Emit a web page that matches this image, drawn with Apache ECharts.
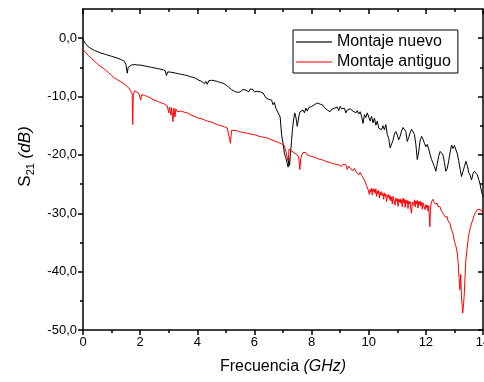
<!DOCTYPE html>
<html>
<head>
<meta charset="utf-8">
<title>S21</title>
<script src="https://cdn.jsdelivr.net/npm/echarts@6/dist/echarts.min.js"></script>
<style>
  html, body { margin: 0; padding: 0; background: #fff; }
  #chart { width: 484px; height: 382px; }
</style>
</head>
<body>
<div id="chart"></div>
<script>
// Frequency (GHz) and S21 (dB) for the new fixture
const freqNuevo = [
  0.00, 0.03, 0.08, 0.15, 0.25, 0.40, 0.60, 0.80, 1.00, 1.20, 1.35, 1.45, 1.50, 1.55, 1.58, 1.62, 1.70, 1.80, 1.90, 2.00,
  2.10, 2.20, 2.30, 2.40, 2.50, 2.60, 2.70, 2.80, 2.88, 2.92, 2.96, 3.05, 3.15, 3.25, 3.35, 3.45, 3.55, 3.65, 3.75, 3.85,
  3.95, 4.00, 4.05, 4.10, 4.15, 4.20, 4.25, 4.30, 4.35, 4.40, 4.45, 4.50, 4.55, 4.60, 4.65, 4.70, 4.75, 4.80, 4.85, 4.90,
  4.95, 5.00, 5.05, 5.10, 5.15, 5.20, 5.25, 5.30, 5.35, 5.40, 5.45, 5.50, 5.55, 5.60, 5.65, 5.70, 5.75, 5.80, 5.85, 5.90,
  5.95, 6.00, 6.05, 6.10, 6.15, 6.20, 6.25, 6.30, 6.35, 6.40, 6.45, 6.50, 6.55, 6.60, 6.65, 6.70, 6.75, 6.80, 6.85, 6.90,
  6.95, 7.00, 7.05, 7.10, 7.15, 7.18, 7.20, 7.23, 7.26, 7.30, 7.33, 7.37, 7.41, 7.45, 7.50, 7.53, 7.57, 7.60, 7.65, 7.70,
  7.75, 7.80, 7.85, 7.90, 7.95, 8.00, 8.05, 8.10, 8.15, 8.20, 8.25, 8.30, 8.35, 8.40, 8.45, 8.50, 8.55, 8.60, 8.65, 8.70,
  8.75, 8.80, 8.85, 8.90, 8.95, 9.00, 9.05, 9.10, 9.15, 9.20, 9.25, 9.30, 9.35, 9.40, 9.45, 9.50, 9.55, 9.60, 9.65, 9.70,
  9.75, 9.80, 9.85, 9.90, 9.95, 10.00, 10.05, 10.10, 10.15, 10.20, 10.25, 10.30, 10.35, 10.40, 10.45, 10.50, 10.55, 10.60, 10.65, 10.70,
  10.75, 10.80, 10.85, 10.90, 10.95, 11.00, 11.05, 11.10, 11.15, 11.20, 11.25, 11.30, 11.35, 11.40, 11.45, 11.50, 11.55, 11.60, 11.65, 11.70,
  11.75, 11.80, 11.85, 11.90, 11.95, 12.00, 12.05, 12.10, 12.15, 12.20, 12.25, 12.30, 12.35, 12.40, 12.45, 12.50, 12.55, 12.60, 12.65, 12.70,
  12.75, 12.80, 12.85, 12.90, 12.95, 13.00, 13.05, 13.10, 13.15, 13.20, 13.25, 13.30, 13.35, 13.40, 13.45, 13.50, 13.55, 13.60, 13.65, 13.70,
  13.75, 13.80, 13.85, 13.90, 13.95, 14.00
];
const s21Nuevo = [
  0.0, -0.5, -0.9, -1.3, -1.7, -2.1, -2.5, -2.8, -3.1, -3.4, -3.7, -4.0, -4.5, -6.0, -5.0, -4.7, -4.6, -4.5, -4.6, -4.6,
  -4.7, -4.8, -4.9, -5.0, -5.1, -5.2, -5.3, -5.4, -5.6, -6.4, -5.8, -5.8, -5.9, -6.0, -6.1, -6.2, -6.3, -6.4, -6.6, -6.7,
  -6.9, -7.0, -7.2, -7.1, -7.4, -7.3, -7.8, -7.4, -7.9, -7.3, -7.4, -7.2, -7.5, -7.3, -7.5, -7.4, -7.6, -7.6, -7.8, -7.7,
  -7.9, -8.0, -8.2, -8.4, -8.6, -8.8, -9.0, -9.1, -9.4, -9.3, -9.5, -9.2, -8.9, -8.8, -8.6, -8.9, -8.6, -9.2, -8.7, -8.9,
  -8.8, -9.2, -8.9, -9.1, -9.3, -9.2, -9.5, -9.4, -9.7, -10.2, -10.0, -10.5, -10.8, -10.6, -11.4, -11.0, -12.0, -11.7, -13.0, -13.5,
  -16.5, -18.0, -19.8, -20.5, -21.5, -22.1, -20.5, -21.8, -19.8, -17.5, -15.7, -14.0, -12.8, -13.5, -15.1, -14.2, -13.0, -12.6, -12.9, -12.3,
  -12.8, -12.0, -12.5, -11.9, -12.1, -11.7, -11.8, -11.4, -11.5, -11.1, -11.2, -11.3, -11.6, -11.5, -11.9, -12.0, -12.3, -12.4, -12.6, -12.2,
  -12.4, -12.0, -12.2, -11.8, -12.4, -11.7, -12.1, -12.3, -12.0, -12.8, -12.3, -12.6, -12.1, -12.3, -12.5, -12.2, -12.8, -12.4, -13.0, -12.6,
  -13.4, -14.6, -13.1, -13.6, -12.8, -13.1, -14.2, -13.4, -14.5, -13.7, -14.9, -14.2, -15.4, -15.1, -15.7, -15.0, -15.7, -14.8, -16.5, -17.2,
  -18.8, -19.1, -17.5, -16.4, -16.0, -16.6, -17.4, -16.8, -15.9, -15.3, -15.1, -16.0, -17.7, -17.0, -16.2, -15.6, -15.4, -16.5, -18.2, -20.8,
  -19.5, -17.5, -16.8, -17.3, -18.0, -18.6, -18.2, -19.0, -20.0, -20.8, -21.4, -22.0, -22.8, -21.5, -20.2, -19.4, -19.1, -20.0, -21.3, -22.8,
  -22.3, -21.0, -19.5, -18.3, -18.9, -18.4, -18.6, -19.8, -21.0, -22.5, -23.7, -22.8, -22.0, -21.1, -21.8, -23.0, -23.5, -24.3, -23.2, -22.8,
  -22.6, -23.4, -24.2, -25.1, -26.3, -27.1
];

// Frequency (GHz) and S21 (dB) for the old fixture
const freqAntiguo = [
  0.00, 0.02, 0.05, 0.10, 0.20, 0.30, 0.40, 0.50, 0.60, 0.70, 0.80, 0.90, 1.00, 1.10, 1.20, 1.30, 1.40, 1.50, 1.60, 1.67,
  1.72, 1.74, 1.76, 1.80, 1.87, 1.95, 2.00, 2.02, 2.05, 2.15, 2.25, 2.35, 2.45, 2.55, 2.65, 2.75, 2.85, 2.95, 3.00, 3.03,
  3.08, 3.10, 3.15, 3.18, 3.22, 3.25, 3.30, 3.35, 3.45, 3.55, 3.65, 3.75, 3.85, 3.95, 4.05, 4.15, 4.25, 4.35, 4.45, 4.55,
  4.65, 4.75, 4.85, 4.95, 5.05, 5.12, 5.16, 5.20, 5.25, 5.35, 5.45, 5.55, 5.65, 5.75, 5.85, 5.95, 6.05, 6.15, 6.25, 6.35,
  6.45, 6.55, 6.65, 6.75, 6.85, 6.95, 7.05, 7.12, 7.18, 7.21, 7.28, 7.35, 7.41, 7.50, 7.55, 7.59, 7.62, 7.66,
  7.70, 7.75, 7.80, 7.85, 7.90, 7.95, 8.00, 8.05, 8.10, 8.15, 8.20, 8.25, 8.30, 8.35, 8.40, 8.45, 8.50, 8.55, 8.60, 8.65,
  8.70, 8.75, 8.80, 8.85, 8.90, 8.95, 9.00, 9.05, 9.10, 9.15, 9.20, 9.25, 9.30, 9.35, 9.40, 9.45, 9.50, 9.55, 9.60, 9.65,
  9.70, 9.75, 9.80, 9.85,
  9.900, 9.925, 9.950, 9.975, 10.000, 10.025, 10.050, 10.075, 10.100, 10.125, 10.150, 10.175, 10.200, 10.225, 10.250, 10.275,
  10.300, 10.325, 10.350, 10.375, 10.400, 10.425, 10.450, 10.475, 10.500, 10.525, 10.550, 10.575, 10.600, 10.625, 10.650, 10.675,
  10.700, 10.725, 10.750, 10.775, 10.800, 10.825, 10.850, 10.875, 10.900, 10.925, 10.950, 10.975, 11.000, 11.025, 11.050, 11.075,
  11.100, 11.125, 11.150, 11.175, 11.200, 11.225, 11.250, 11.275, 11.300, 11.325, 11.350, 11.375, 11.400, 11.425, 11.450, 11.475,
  11.500, 11.525, 11.550, 11.575, 11.600, 11.625, 11.650, 11.675, 11.700, 11.725, 11.750, 11.775, 11.800, 11.825, 11.850, 11.875,
  11.900, 11.925, 11.950, 11.975, 12.000, 12.025, 12.050, 12.075, 12.100, 12.125, 12.140, 12.160, 12.175, 12.200, 12.225, 12.250,
  12.275, 12.300, 12.325, 12.350, 12.375, 12.400, 12.425, 12.450, 12.475, 12.500, 12.525, 12.550, 12.575, 12.600, 12.625, 12.650,
  12.675, 12.700, 12.725, 12.750, 12.775, 12.800, 12.825, 12.850, 12.875, 12.900,
  12.95, 13.00, 13.05, 13.10, 13.13, 13.16, 13.19, 13.22, 13.25, 13.29, 13.32, 13.34, 13.37, 13.40, 13.45, 13.49, 13.55, 13.60,
  13.65, 13.70, 13.75, 13.80, 13.85, 13.90, 13.95, 14.00
];
const s21Antiguo = [
  -1.9, -1.7, -2.2, -2.5, -3.0, -3.5, -3.9, -4.4, -4.8, -5.1, -5.5, -5.9, -6.4, -6.8, -7.1, -7.4, -7.7, -8.1, -8.5, -8.8,
  -9.5, -14.8, -9.8, -9.0, -9.2, -9.4, -9.6, -10.6, -9.7, -9.8, -10.0, -10.2, -10.5, -10.7, -10.9, -11.1, -11.3, -11.6, -12.8, -11.8,
  -13.2, -11.9, -14.3, -12.0, -13.5, -12.1, -12.6, -12.3, -12.5, -12.7, -12.8, -13.1, -13.3, -13.5, -13.7, -13.8, -14.0, -14.2, -14.3, -14.5,
  -14.7, -14.9, -15.0, -15.2, -15.4, -15.6, -18.0, -15.8, -15.7, -15.8, -16.0, -16.1, -16.2, -16.3, -16.4, -16.5, -16.6, -16.8, -16.9, -17.0,
  -17.1, -17.3, -17.5, -17.7, -17.9, -18.1, -18.4, -18.7, -21.1, -19.0, -19.3, -19.5, -19.7, -20.0, -20.4, -22.5, -20.6, -20.0,
  -19.6, -19.8, -19.6, -20.0, -19.8, -20.2, -19.9, -20.3, -20.2, -20.5, -20.3, -20.7, -20.5, -20.8, -20.6, -21.0, -20.8, -21.2, -21.0, -21.3,
  -21.0, -21.5, -21.2, -21.6, -21.3, -21.7, -21.4, -22.0, -21.6, -21.9, -21.7, -22.5, -21.9, -22.3, -22.1, -22.7, -22.3, -22.8, -22.6, -23.4,
  -23.0, -23.5, -23.8, -24.3,
  -24.6, -25.3, -25.0, -25.9, -25.6, -26.8, -25.9, -26.4, -25.7, -26.9, -25.8, -26.3, -25.9, -26.6, -25.8, -27.1,
  -26.2, -26.7, -26.1, -27.4, -26.4, -26.9, -26.3, -27.0, -26.6, -27.6, -26.5, -27.1, -26.7, -28.0, -26.9, -27.3,
  -26.8, -27.6, -27.0, -27.9, -27.2, -28.4, -27.1, -27.6, -27.3, -28.6, -27.4, -27.9, -27.5, -28.8, -27.6, -28.1,
  -27.5, -28.3, -27.7, -28.9, -27.4, -28.2, -27.6, -29.0, -27.7, -28.3, -27.8, -29.2, -27.9, -28.4, -28.0, -29.5,
  -30.0, -28.1, -27.8, -28.6, -27.7, -28.9, -27.9, -28.4, -27.8, -29.1, -28.0, -28.5, -27.9, -28.8, -28.1, -29.3,
  -28.2, -28.7, -28.4, -29.4, -28.5, -29.0, -28.6, -29.6, -28.7, -31.0, -32.3, -29.5, -28.6, -28.0, -27.8, -27.6,
  -28.0, -27.8, -28.4, -28.1, -28.5, -28.3, -28.8, -28.6, -29.1, -28.9, -29.4, -29.2, -29.8, -29.6, -30.2, -30.0,
  -30.6, -30.3, -30.8, -30.6, -31.3, -31.0, -31.6, -31.8, -32.5, -32.8,
  -33.5, -34.8, -35.6, -36.8, -38.5, -41.0, -43.1, -40.5, -44.5, -47.1, -45.5, -44.2, -41.0, -38.0, -35.8, -34.0, -32.6, -31.7,
  -31.0, -30.2, -29.8, -29.4, -29.6, -29.3, -29.5, -30.0
];

// Axis ticks
const xTicks = [0, 2, 4, 6, 8, 10, 12, 14];
const yTicks = [-50, -40, -30, -20, -10, 0];
const yMinorTicks = [-45, -35, -25, -15, -5];

const seriesNames = ['Montaje nuevo', 'Montaje antiguo'];

const pairs = (xs, ys) => xs.map((x, i) => [x, ys[i]]);
const fmtComma = v => v.toFixed(1).replace('.', ',');

const FONT = 'Liberation Sans, Arial, sans-serif';
const AX = '#000';
const lineW = 1.5;

const chart = echarts.init(document.getElementById('chart'), null, { renderer: 'canvas' });

const baseX = {
  type: 'value', min: 0, max: 14, interval: 2,
  splitLine: { show: false },
  axisLine: { show: true, onZero: false, lineStyle: { color: AX, width: lineW } },
  minorTick: { show: true, splitNumber: 2, length: 3, lineStyle: { color: AX, width: lineW } },
  minorSplitLine: { show: false }
};
const baseY = {
  type: 'value', min: -50, max: 5, interval: 5,
  splitLine: { show: false },
  axisLine: { show: false, onZero: false, lineStyle: { color: AX, width: lineW } }
};

chart.setOption({
  animation: false,
  backgroundColor: '#fff',
  textStyle: { fontFamily: FONT },
  grid: { left: 83, right: 1, top: 9, bottom: 52, containLabel: false, outerBoundsMode: 'none' },
  legend: {
    data: [
      { name: seriesNames[0], itemStyle: { color: '#6a6a6a' } },
      { name: seriesNames[1], itemStyle: { color: '#ff7a7a' } }
    ],
    orient: 'vertical',
    left: 293, top: 30,
    icon: 'rect', itemWidth: 36, itemHeight: 2, itemGap: 2,
    padding: [3, 7, 2, 3],
    borderColor: '#000', borderWidth: 1,
    textStyle: { fontFamily: FONT, fontSize: 16, color: '#000', lineHeight: 18 }
  },
  xAxis: [
    Object.assign({}, baseX, {
      position: 'bottom',
      axisTick: { show: true, length: 5, lineStyle: { color: AX, width: lineW } },
      axisLabel: { show: true, margin: 6, color: '#000', fontFamily: FONT, fontSize: 13,
        customValues: xTicks, formatter: v => String(v) },
      name: 'Frecuencia {i|(GHz)}',
      nameLocation: 'middle', nameGap: 29, nameMoveOverlap: false,
      nameTextStyle: { fontFamily: FONT, fontSize: 16, color: '#000',
        rich: { i: { fontFamily: FONT, fontSize: 16, fontStyle: 'italic', color: '#000' } } }
    }),
    Object.assign({}, baseX, {
      position: 'top',
      axisTick: { show: true, inside: true, length: 5, lineStyle: { color: AX, width: lineW } },
      minorTick: { show: true, splitNumber: 2, length: 3, lineStyle: { color: AX, width: lineW } },
      axisLabel: { show: false }
    })
  ],
  yAxis: [
    Object.assign({}, baseY, {
      position: 'left',
      axisLine: { show: true, onZero: false, lineStyle: { color: AX, width: lineW } },
      axisTick: { show: true, length: 5, customValues: yTicks, lineStyle: { color: AX, width: lineW } },
      axisLabel: { show: true, margin: 6, color: '#000', fontFamily: FONT, fontSize: 13,
        customValues: yTicks, formatter: fmtComma },
      name: '{s|S}{sub|21}{s| }{i|(dB)}',
      nameLocation: 'middle', nameRotate: 90, nameGap: 47, nameMoveOverlap: false,
      nameTextStyle: { fontFamily: FONT, color: '#000', padding: [0, 0, 0, 26],
        rich: {
          s: { fontFamily: FONT, fontSize: 17, color: '#000', lineHeight: 22, verticalAlign: 'middle' },
          sub: { fontFamily: FONT, fontSize: 11, color: '#000', lineHeight: 11, verticalAlign: 'bottom' },
          i: { fontFamily: FONT, fontSize: 17, fontStyle: 'italic', color: '#000', lineHeight: 22, verticalAlign: 'middle' }
        } }
    }),
    Object.assign({}, baseY, {
      position: 'left',
      axisTick: { show: true, length: 3, customValues: yMinorTicks, lineStyle: { color: AX, width: lineW } },
      axisLabel: { show: false }
    }),
    Object.assign({}, baseY, {
      position: 'right',
      axisLine: { show: true, onZero: false, lineStyle: { color: AX, width: lineW } },
      axisTick: { show: true, inside: true, length: 5, customValues: yTicks, lineStyle: { color: AX, width: lineW } },
      axisLabel: { show: false }
    }),
    Object.assign({}, baseY, {
      position: 'right',
      axisTick: { show: true, inside: true, length: 3, customValues: yMinorTicks, lineStyle: { color: AX, width: lineW } },
      axisLabel: { show: false }
    })
  ],
  series: [
    {
      name: seriesNames[0], type: 'line', xAxisIndex: 0, yAxisIndex: 0,
      data: pairs(freqNuevo, s21Nuevo),
      showSymbol: false, symbol: 'none', clip: true,
      lineStyle: { color: '#000', width: 1 }, itemStyle: { color: '#000' }
    },
    {
      name: seriesNames[1], type: 'line', xAxisIndex: 0, yAxisIndex: 0,
      data: pairs(freqAntiguo, s21Antiguo),
      showSymbol: false, symbol: 'none', clip: true,
      lineStyle: { color: '#ff0000', width: 1 }, itemStyle: { color: '#ff0000' }
    }
  ]
});
</script>
</body>
</html>
